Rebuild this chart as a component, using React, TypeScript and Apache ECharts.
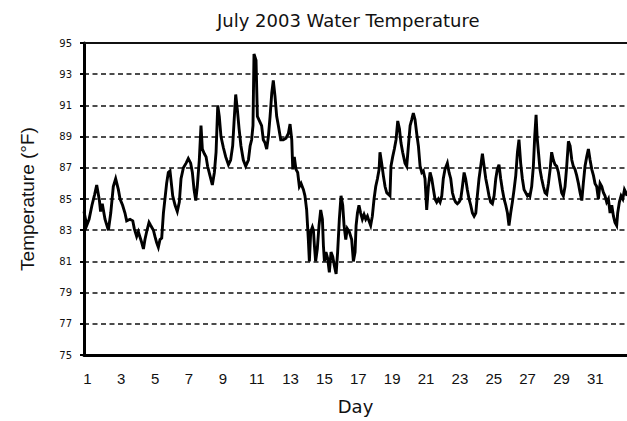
import React, { useEffect, useRef } from "react";
import * as echarts from "echarts";

const chartTitle = "July 2003 Water Temperature";
const xAxisName = "Day";
const yAxisName = "Temperature (°F)";
const dayLabels = [1, 3, 5, 7, 9, 11, 13, 15, 17, 19, 21, 23, 25, 27, 29, 31];
const yMin = 75;
const yMax = 95;
const yStep = 2;
const dayMin = 0.8;
const dayMax = 32.87;

// time position in days (day 1 = July 1) of each reading
const dayPos = [
  0.8, 0.96, 1.1, 1.27, 1.43, 1.55, 1.71, 1.78, 1.88, 2.04, 2.24, 2.38, 2.53, 2.67, 2.83, 2.93, 3.08, 3.22, 3.32, 3.52,
  3.68, 3.77, 3.91, 4.01, 4.21, 4.31, 4.4, 4.5, 4.64, 4.74, 4.9, 4.99, 5.09, 5.19, 5.29, 5.39, 5.49, 5.68, 5.78,
  5.88, 6.04, 6.18, 6.31, 6.43, 6.53, 6.67, 6.83, 6.96, 7.1, 7.2, 7.3, 7.4, 7.49, 7.61, 7.71, 7.79, 7.91, 8.01, 8.1,
  8.24, 8.38, 8.5, 8.6, 8.7, 8.79, 8.89, 9.03, 9.17, 9.33, 9.46, 9.58, 9.66, 9.76, 9.86, 9.96, 10.07, 10.21, 10.35,
  10.51, 10.61, 10.7, 10.78, 10.84, 10.96, 11.04,
  11.29, 11.39, 11.49, 11.59, 11.69, 11.79, 11.89, 11.98, 12.08, 12.18, 12.28, 12.42, 12.57, 12.73, 12.87, 12.97,
  13.07, 13.13, 13.22, 13.32, 13.42, 13.52, 13.62, 13.76, 13.85, 13.95, 14.05, 14.11, 14.19, 14.29, 14.35, 14.41,
  14.48, 14.58, 14.68, 14.78, 14.88, 14.94, 15.0, 15.09, 15.19, 15.29, 15.39, 15.49, 15.59, 15.69, 15.78, 15.88,
  15.98, 16.08, 16.16, 16.26, 16.35, 16.47,
  16.61, 16.71, 16.81, 16.87, 16.95, 17.04, 17.14, 17.24, 17.34, 17.44, 17.54, 17.63, 17.73, 17.83, 17.93, 18.03,
  18.13, 18.23, 18.28, 18.38, 18.48, 18.58, 18.68, 18.78, 18.87, 18.93, 19.03, 19.13, 19.23, 19.33, 19.43, 19.52,
  19.62, 19.76, 19.86, 19.96, 20.06, 20.16, 20.25, 20.35, 20.45, 20.55, 20.65, 20.75, 20.84, 20.94, 21.04, 21.14,
  21.24, 21.34, 21.44, 21.53, 21.63, 21.73,
  21.83, 21.93, 22.02, 22.12, 22.26, 22.36, 22.46, 22.56, 22.66, 22.75, 22.85, 22.95, 23.05, 23.15, 23.25, 23.34,
  23.44, 23.54, 23.64, 23.74, 23.84, 23.94, 24.03, 24.13, 24.23, 24.33, 24.43, 24.53, 24.62, 24.72, 24.82, 24.92,
  25.02, 25.12, 25.21, 25.31, 25.41, 25.51, 25.61, 25.71, 25.81, 25.9, 26.0, 26.1, 26.2, 26.3, 26.4, 26.49, 26.59,
  26.69, 26.79, 26.89, 26.99, 27.09,
  27.14, 27.24, 27.34, 27.42, 27.5, 27.56, 27.64, 27.73, 27.83, 27.93, 28.03, 28.13, 28.23, 28.33, 28.42, 28.52,
  28.62, 28.72, 28.82, 28.92, 29.01, 29.11, 29.21, 29.31, 29.41, 29.51, 29.61, 29.7, 29.8, 29.9, 30.0, 30.1, 30.2,
  30.29, 30.39, 30.49, 30.59, 30.69, 30.79, 30.89, 30.98, 31.08, 31.18, 31.28, 31.38, 31.48, 31.57, 31.67, 31.77,
  31.87, 31.97, 32.07, 32.16, 32.26, 32.32, 32.42, 32.52, 32.62, 32.72, 32.81, 32.87,
];

// water temperature (°F) at each position above
const tempF = [
  84.2, 83.3, 83.7, 84.6, 85.3, 85.9, 84.9, 84.2, 84.7, 83.7, 83.0, 84.1, 85.8, 86.3, 85.6, 85.0, 84.6, 84.1, 83.6, 83.7,
  83.6, 83.1, 82.6, 82.9, 82.2, 81.8, 82.4, 82.9, 83.5, 83.3, 83.0, 82.6, 82.2, 81.9, 82.4, 82.5, 84.1, 86.0, 86.7,
  86.8, 85.2, 84.6, 84.2, 84.8, 86.3, 87.0, 87.3, 87.6, 87.3, 86.7, 85.6, 84.9, 85.8, 87.5, 89.7, 88.2, 87.9, 87.7, 87.1,
  86.5, 85.9, 86.7, 88.0, 91.0, 90.3, 89.0, 88.3, 87.7, 87.2, 87.5, 88.4, 89.9, 91.7, 90.7, 89.5, 88.4, 87.5, 87.1,
  87.5, 88.4, 88.8, 89.7, 94.3, 93.9, 90.3,
  89.7, 88.8, 88.6, 88.2, 89.0, 90.3, 91.8, 92.6, 91.6, 90.3, 89.7, 88.8, 88.8, 88.9, 89.2, 89.8,
  88.8, 86.9, 87.7, 86.9, 86.7, 85.8, 86.0, 85.6, 85.2, 84.3, 82.4, 81.0, 82.9, 83.2, 83.0, 82.0,
  81.0, 81.8, 83.3, 84.3, 83.7, 82.0, 81.0, 81.6, 81.2, 80.3, 81.6, 81.3, 80.7, 80.2, 81.6, 83.7,
  85.2, 84.6, 83.3, 82.4, 83.1, 82.9,
  82.4, 81.0, 81.6, 83.3, 84.1, 84.6, 84.1, 83.7, 84.0, 83.7, 83.9, 83.6, 83.3, 83.9, 85.0, 85.8,
  86.3, 86.9, 88.0, 87.3, 86.5, 85.8, 85.4, 85.3, 85.2, 87.1, 87.7, 88.2, 88.8, 90.0, 89.5, 88.6,
  88.0, 87.3, 87.1, 88.4, 89.7, 90.1, 90.5, 90.1, 89.2, 88.4, 87.1, 86.7, 86.8, 86.3, 84.3, 85.8,
  86.7, 86.3, 85.6, 85.0, 84.8, 85.0,
  84.8, 85.2, 86.3, 86.9, 87.3, 86.7, 86.3, 85.4, 85.0, 84.8, 84.7, 84.8, 85.0, 85.8, 86.7, 86.3,
  85.6, 85.0, 84.6, 84.1, 83.9, 84.1, 85.2, 86.3, 87.1, 87.9, 87.1, 86.3, 85.8, 85.2, 84.8, 84.7,
  85.2, 86.3, 86.9, 87.2, 86.3, 85.6, 85.0, 84.6, 84.1, 83.3, 84.1, 84.8, 85.6, 86.5, 88.0, 88.8, 87.3,
  86.3, 85.6, 85.4, 85.2, 85.3,
  85.2, 85.8, 87.1, 89.0, 90.4, 89.0, 88.0, 86.9, 86.3, 85.8, 85.4, 85.3, 86.0, 86.9, 88.0, 87.5,
  87.2, 87.1, 86.7, 86.0, 85.4, 85.2, 85.8, 87.1, 88.7, 88.4, 87.5, 87.1, 86.9, 86.5, 86.0, 85.4, 84.9,
  86.0, 87.1, 87.7, 88.2, 87.5, 86.9, 86.5, 86.0, 85.8, 85.0, 86.0, 85.8, 85.4, 85.2, 84.8, 85.0,
  84.1, 84.6, 83.9, 83.5, 83.3, 84.1, 84.8, 85.2, 85.0, 85.6, 85.4, 85.2,
];

export default function App() {
  const ref = useRef<HTMLDivElement>(null);

  useEffect(() => {
    if (!ref.current) return;
    const chart = echarts.init(ref.current, null, { renderer: "svg" });
    const data = dayPos.map((d, i) => [d, tempF[i]]);
    chart.setOption({
      animation: false,
      backgroundColor: "#ffffff",
      title: {
        text: chartTitle,
        left: 212,
        top: 6,
        textStyle: {
          fontFamily: "DejaVu Sans",
          fontSize: 18,
          fontWeight: "normal",
          color: "#111",
        },
      },
      grid: { left: 84, right: 0, top: 43, bottom: 66 },
      xAxis: {
        type: "value",
        min: dayMin,
        max: dayMax,
        name: xAxisName,
        nameLocation: "middle",
        nameGap: 42,
        nameTextStyle: { fontFamily: "DejaVu Sans", fontSize: 18, color: "#111" },
        axisLine: { show: true, lineStyle: { color: "#000", width: 3 } },
        axisTick: { show: false },
        splitLine: { show: false },
        axisLabel: {
          customValues: dayLabels,
          fontFamily: "Liberation Sans, Arial, sans-serif",
          fontSize: 15,
          color: "#111",
          margin: 16,
        },
      },
      yAxis: {
        type: "value",
        min: yMin,
        max: yMax,
        interval: yStep,
        name: yAxisName,
        nameLocation: "middle",
        nameRotate: 90,
        nameGap: 47,
        nameTextStyle: { fontFamily: "Liberation Sans, Arial, sans-serif", fontSize: 19, color: "#111" },
        axisLine: { show: true, lineStyle: { color: "#000", width: 3 } },
        axisTick: { show: true, length: 4, lineStyle: { color: "#000", width: 2 } },
        axisLabel: { fontFamily: "DejaVu Sans", fontSize: 10, color: "#111", margin: 12 },
        splitLine: {
          show: true,
          showMinLine: false,
          showMaxLine: false,
          lineStyle: { color: "#111", width: 1.5, type: [5, 3.5] },
        },
      },
      series: [
        {
          type: "line",
          data,
          showSymbol: false,
          lineStyle: { color: "#000", width: 2.9, join: "miter" },
          markLine: {
            silent: true,
            symbol: "none",
            label: { show: false },
            lineStyle: { color: "#111", width: 2, type: "solid" },
            data: [{ yAxis: yMax }],
          },
        },
      ],
    });
    return () => chart.dispose();
  }, []);

  return (
    <div
      ref={ref}
      style={{ position: "fixed", left: 0, top: 0, width: 627, height: 421 }}
    />
  );
}
